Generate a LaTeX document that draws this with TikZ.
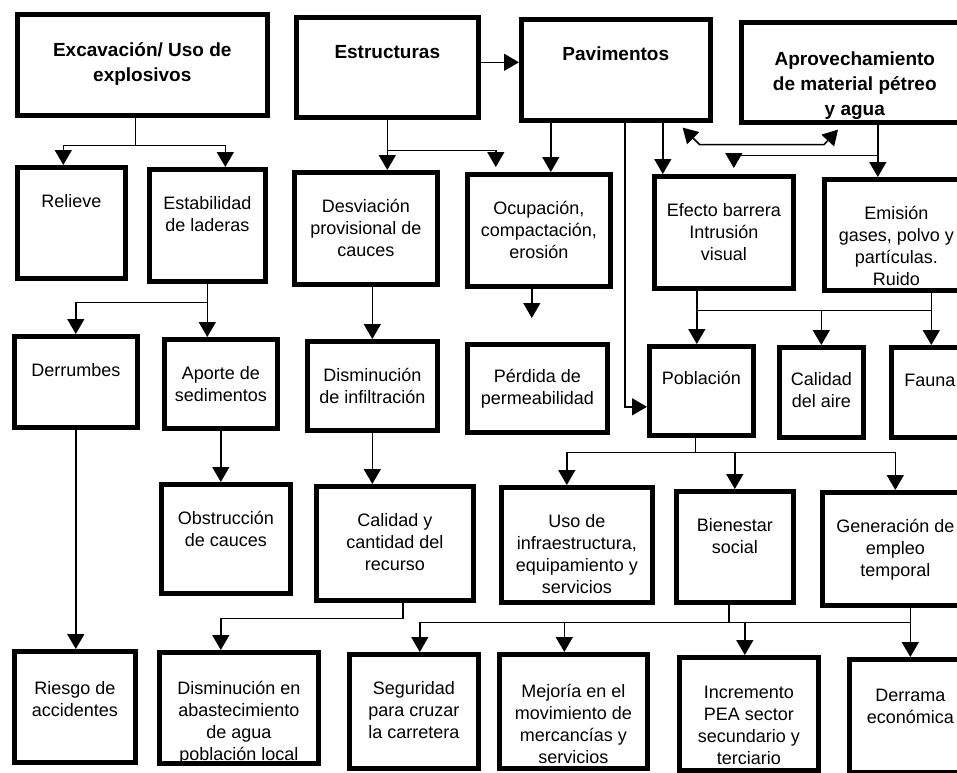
\documentclass[tikz,border=0pt]{standalone}
\usepackage{fontspec}
\setmainfont{Liberation Sans}
\usetikzlibrary{arrows.meta,calc}

\begin{document}
\begin{tikzpicture}[
    x=1pt, y=-1pt,
    box/.style={
        draw,
        line width=4.6pt,
        anchor=north west,
        inner sep=0pt
    },
    txt/.style={
        anchor=north,
        yshift=-29,
        align=center,
        inner sep=0pt,
        font=\fontsize{18}{22}\selectfont
    },
    head/.style={
        anchor=north,
        yshift=-30,
        align=center,
        inner sep=0pt,
        font=\fontsize{19}{25}\selectfont\bfseries
    },
    line/.style={line width=1.5pt},
    arr/.style={line width=1.5pt, -{Triangle[width=17pt,length=15pt]}},
    dbl/.style={line width=1.5pt, {Triangle[width=17pt,length=15pt]}-{Triangle[width=17pt,length=15pt]}}
]

\path[use as bounding box, fill=white] (0,0) rectangle (957,772);

% ==========================================================
% ACTIVITIES
% ==========================================================
\node[box, minimum width=250, minimum height=101, label={[head]north:{Excavación/ Uso de\\explosivos}}] (exc) at (15,12) {};
\node[box, minimum width=182, minimum height=100, label={[head]north:Estructuras}] (est) at (294,15) {};
\node[box, minimum width=189, minimum height=101, label={[head]north:Pavimentos}] (pav) at (519,17) {};
\node[box, minimum width=227, minimum height=100, label={[head, yshift=-2]north:{Aprovechamiento\\de material pétreo\\y agua}}] (apr) at (739,20) {};

% ==========================================================
% FIRST EFFECTS
% ==========================================================
\node[box, minimum width=108, minimum height=111, label={[txt]north:Relieve}] (relieve) at (15,165) {};
\node[box, minimum width=116, minimum height=112, label={[txt]north:{Estabilidad\\de laderas}}] (estab) at (147,167) {};
\node[box, minimum width=143, minimum height=112, label={[txt]north:{Desviación\\provisional de\\cauces}}] (desv) at (292,170) {};
\node[box, minimum width=143, minimum height=112, label={[txt]north:{Ocupación,\\compactación,\\erosión}}] (ocup) at (465,172) {};
\node[box, minimum width=139, minimum height=112, label={[txt]north:{Efecto barrera\\Intrusión\\visual}}] (efecto) at (652,174) {};
\node[box, minimum width=144, minimum height=111, label={[txt]north:{Emisión\\gases, polvo y\\partículas.\\Ruido}}] (emis) at (822,177) {};

% ==========================================================
% SECOND EFFECTS
% ==========================================================
\node[box, minimum width=123, minimum height=91, label={[txt]north:Derrumbes}] (derr) at (12,334) {};
\node[box, minimum width=113, minimum height=89, label={[txt]north:{Aporte de\\sedimentos}}] (aporte) at (162,337) {};
\node[box, minimum width=130, minimum height=89, label={[txt]north:{Disminución\\de infiltración}}] (dism) at (305,339) {};
\node[box, minimum width=140, minimum height=88, label={[txt, yshift=2]north:{Pérdida de\\permeabilidad}}] (perd) at (465,342) {};
\node[box, minimum width=104, minimum height=89, label={[txt, yshift=2]north:Población}] (pob) at (647,344) {};
\node[box, minimum width=84, minimum height=90, label={[txt, yshift=2]north:{Calidad\\del aire}}] (aire) at (777,345) {};
\node[box, minimum width=77, minimum height=90, label={[txt]north:Fauna}] (fauna) at (889,345) {};

% ==========================================================
% THIRD EFFECTS
% ==========================================================
\node[box, minimum width=129, minimum height=109, label={[txt]north:{Obstrucción\\de cauces}}] (obstr) at (159,482) {};
\node[box, minimum width=157, minimum height=114, label={[txt]north:{Calidad y\\cantidad del\\recurso}}] (calrec) at (314,484) {};
\node[box, minimum width=151, minimum height=115, label={[txt]north:{Uso de\\infraestructura,\\equipamiento y\\servicios}}] (uso) at (499,485) {};
\node[box, minimum width=117, minimum height=111, label={[txt]north:{Bienestar\\social}}] (bien) at (674,489) {};
\node[box, minimum width=146, minimum height=113, label={[txt]north:{Generación de\\empleo\\temporal}}] (gen) at (820,490) {};

% ==========================================================
% LAST EFFECTS
% ==========================================================
\node[box, minimum width=121, minimum height=111, label={[txt, yshift=-3]north:{Riesgo de\\accidentes}}] (riesgo) at (12,649) {};
\node[box, minimum width=159, minimum height=111, label={[txt, yshift=-2]north:{Disminución en\\abastecimiento\\de agua\\población local}}] (agua) at (157,650) {};
\node[box, minimum width=129, minimum height=114, label={[txt]north:{Seguridad\\para cruzar\\la carretera}}] (seg) at (347,652) {};
\node[box, minimum width=148, minimum height=114, label={[txt, yshift=-3]north:{Mejoría en el\\movimiento de\\mercancías y\\servicios}}] (mej) at (497,652) {};
\node[box, minimum width=139, minimum height=113, label={[txt, yshift=-2]north:{Incremento\\PEA sector\\secundario y\\terciario}}] (inc) at (677,655) {};
\node[box, minimum width=122, minimum height=113, label={[txt, yshift=-3]north:{Derrama\\económica}}] (derrama) at (847,657) {};

% ==========================================================
% CONNECTIONS
% ==========================================================

% Excavacion
\draw[line] ([xshift=-7]exc.south) -- ++(0,28) coordinate (b1);
\draw[arr] (b1) -| ([xshift=-8]relieve.north);
\draw[arr] (b1) -| ([xshift=18]estab.north);

% Estructuras
\draw[arr] (est.south) -- (est.south |- desv.north);
\draw[arr, shorten >=5pt] ([yshift=-31]est.south) -| ([xshift=-43]ocup.north);
\draw[arr] ([yshift=5]est.east) -- ([yshift=5]est.east -| pav.west);

% Pavimentos
\draw[arr] ([xshift=-65]pav.south) -- ([xshift=-65]pav.south |- ocup.north);
\draw[arr] ([xshift=9]pav.south) |- ([yshift=-16]pob.west);
\draw[arr] ([xshift=47]pav.south) -- ([xshift=47]pav.south |- efecto.north);
\draw[dbl] ([xshift=-30,yshift=-5]pav.south east) -- ++(17,17) coordinate (d1)
    -- ([xshift=85]apr.south west |- d1) -- ([xshift=99,yshift=-5]apr.south west);

% Aprovechamiento
\draw[arr] ([xshift=23]apr.south) -- ([xshift=23]apr.south |- emis.north);
\draw[arr, shorten >=6pt] ([xshift=23,yshift=-31]apr.south) -| ([xshift=10]efecto.north);

% Efecto barrera / Emision
\coordinate (b3) at ([xshift=-27,yshift=-20]efecto.south);
\draw[arr] ([xshift=-27]efecto.south) -- ([xshift=-27]efecto.south |- pob.north);
\draw[line] ([xshift=35]emis.south) |- (b3);
\draw[arr] ([xshift=35]emis.south) -- ([xshift=35]emis.south |- fauna.north);
\draw[arr] (b3 -| aire.north) -- (aire.north);

% Estabilidad / Desviacion / Ocupacion
\draw[arr] (estab.south) -- (estab.south |- aporte.north);
\draw[arr] ([yshift=-19]estab.south) -| (derr.north);
\draw[arr] (dism.north |- desv.south) -- (dism.north);
\draw[arr, shorten >=24pt] ([xshift=-7]ocup.south) -- ([xshift=-7]ocup.south |- perd.north);

% Second row down
\draw[arr] (derr.south) -- (derr.south |- riesgo.north);
\draw[arr] (aporte.south) -- (aporte.south |- obstr.north);
\draw[arr] (dism.south) -- (dism.south |- calrec.north);
\draw[line] ([xshift=-6]pob.south) -- ++(0,15) coordinate (b4);
\draw[arr] (b4) -| ([xshift=-10]uso.north);
\draw[arr] (b4) -| (bien.north);
\draw[arr] (b4) -| (gen.north);

% Calidad del recurso
\draw[arr] ([xshift=8]calrec.south) -- ++(0,16) -| ([xshift=-18]agua.north);

% Bienestar / Generacion
\draw[line] ([xshift=-6]bien.south) -- ++(0,18) coordinate (b5);
\draw[line] ([xshift=15]gen.south) |- (b5);
\draw[arr] (b5) -| ([xshift=6]seg.north);
\draw[arr] (b5) -| ([xshift=-9]mej.north);
\draw[arr] (b5) -| ([xshift=-4]inc.north);
\draw[arr] ([xshift=15]gen.south) -- (derrama.north);

\end{tikzpicture}
\end{document}
